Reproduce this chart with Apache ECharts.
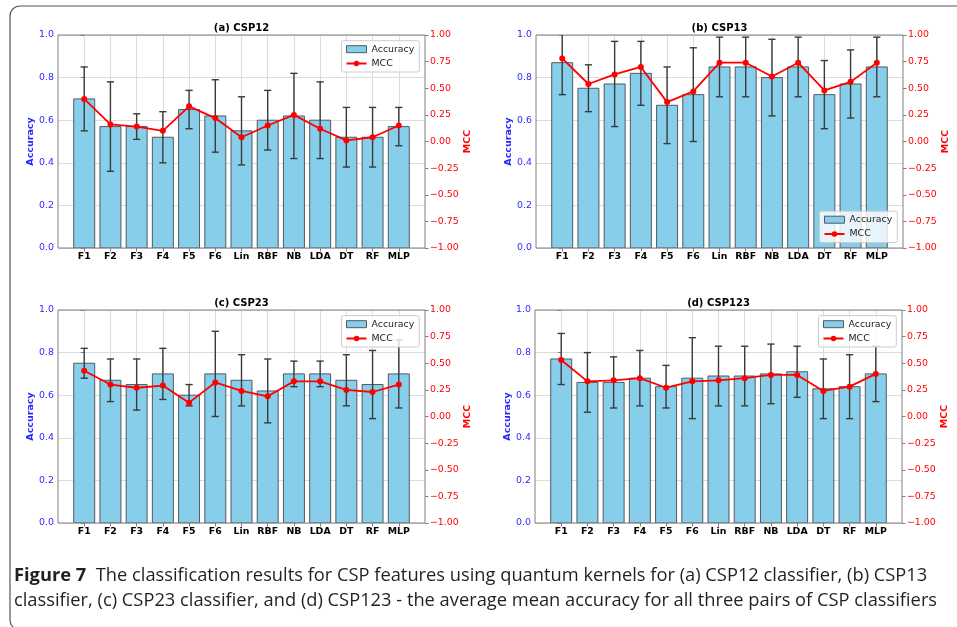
<!DOCTYPE html>
<html>
<head>
<meta charset="utf-8">
<script src="https://cdn.jsdelivr.net/npm/echarts@6/dist/echarts.min.js"></script>
<style>
html, body { margin: 0; padding: 0; background: #ffffff; }
#chart { width: 957px; height: 627px; }
</style>
</head>
<body>
<div id="chart"></div>
<script>
// Classifier / feature labels on the x axis
const categories = ['F1', 'F2', 'F3', 'F4', 'F5', 'F6', 'Lin', 'RBF', 'NB', 'LDA', 'DT', 'RF', 'MLP'];

// Accuracy axis ticks (left) and MCC axis ticks (right)
const accuracyTicks = [0.0, 0.2, 0.4, 0.6, 0.8, 1.0];
const mccTicks = [-1.0, -0.75, -0.5, -0.25, 0.0, 0.25, 0.5, 0.75, 1.0];

// (a) CSP12
const accCSP12 = [0.70, 0.57, 0.57, 0.52, 0.65, 0.62, 0.55, 0.60, 0.62, 0.60, 0.52, 0.52, 0.57];
const stdCSP12 = [0.15, 0.21, 0.06, 0.12, 0.09, 0.17, 0.16, 0.14, 0.20, 0.18, 0.14, 0.14, 0.09];
const mccCSP12 = [0.40, 0.16, 0.14, 0.10, 0.33, 0.22, 0.04, 0.15, 0.25, 0.12, 0.01, 0.04, 0.15];

// (b) CSP13
const accCSP13 = [0.87, 0.75, 0.77, 0.82, 0.67, 0.72, 0.85, 0.85, 0.80, 0.85, 0.72, 0.77, 0.85];
const stdCSP13 = [0.15, 0.11, 0.20, 0.15, 0.18, 0.22, 0.14, 0.14, 0.18, 0.14, 0.16, 0.16, 0.14];
const mccCSP13 = [0.78, 0.54, 0.63, 0.70, 0.37, 0.47, 0.74, 0.74, 0.61, 0.74, 0.48, 0.56, 0.74];

// (c) CSP23
const accCSP23 = [0.75, 0.67, 0.65, 0.70, 0.60, 0.70, 0.67, 0.62, 0.70, 0.70, 0.67, 0.65, 0.70];
const stdCSP23 = [0.07, 0.10, 0.12, 0.12, 0.05, 0.20, 0.12, 0.15, 0.06, 0.06, 0.12, 0.16, 0.16];
const mccCSP23 = [0.43, 0.30, 0.27, 0.29, 0.13, 0.32, 0.24, 0.19, 0.33, 0.33, 0.25, 0.23, 0.30];

// (d) CSP123
const accCSP123 = [0.77, 0.66, 0.66, 0.68, 0.64, 0.68, 0.69, 0.69, 0.70, 0.71, 0.63, 0.64, 0.70];
const stdCSP123 = [0.12, 0.14, 0.12, 0.13, 0.10, 0.19, 0.14, 0.14, 0.14, 0.12, 0.14, 0.15, 0.13];
const mccCSP123 = [0.53, 0.33, 0.34, 0.36, 0.27, 0.33, 0.34, 0.36, 0.39, 0.39, 0.24, 0.28, 0.40];

const panelTitles = ['(a) CSP12', '(b) CSP13', '(c) CSP23', '(d) CSP123'];
const captionBold = 'Figure 7';
const captionLine1 = 'The classification results for CSP features using quantum kernels for (a) CSP12 classifier, (b) CSP13';
const captionLine2 = 'classifier, (c) CSP23 classifier, and (d) CSP123 - the average mean accuracy for all three pairs of CSP classifiers';

const panelData = [
  { acc: accCSP12, std: stdCSP12, mcc: mccCSP12 },
  { acc: accCSP13, std: stdCSP13, mcc: mccCSP13 },
  { acc: accCSP23, std: stdCSP23, mcc: mccCSP23 },
  { acc: accCSP123, std: stdCSP123, mcc: mccCSP123 }
];

// Layout of the four subplots (pixels)
const PLOT_W = 367, PLOT_H = 213, W = 957;
const layout = [
  { left: 58,  top: 35,  legend: 'top' },
  { left: 536, top: 35,  legend: 'bottom' },
  { left: 58,  top: 310, legend: 'top' },
  { left: 535, top: 310, legend: 'top' }
];

const FONT = 'DejaVu Sans';
const TICK_FS = 9.4;
const SPINE = '#808080';
const GRIDLINE = '#dcdcdc';
const BAR_FILL = '#87CEEB';
const BAR_EDGE = '#4f5b60';
const ERR = '#3a3a3a';
const MCC_RED = '#ff0000';
const ACC_BLUE = '#2a2aff';

function barItem(params, api) {
  const x = api.value(0), v = api.value(1);
  const base = api.coord([x, 0]);
  const top = api.coord([x, v]);
  const w = api.size([0.8, 0])[0];
  return {
    type: 'rect',
    shape: { x: base[0] - w / 2, y: top[1], width: w, height: base[1] - top[1] },
    style: { fill: BAR_FILL, stroke: BAR_EDGE, lineWidth: 1 }
  };
}

function errorItem(params, api) {
  const x = api.value(0), m = api.value(1), e = api.value(2);
  const hi = api.coord([x, m + e]);
  const lo = api.coord([x, m - e]);
  const cap = 3.6;
  const st = { stroke: ERR, lineWidth: 1.4 };
  return {
    type: 'group',
    children: [
      { type: 'line', shape: { x1: hi[0], y1: hi[1], x2: lo[0], y2: lo[1] }, style: st },
      { type: 'line', shape: { x1: hi[0] - cap, y1: hi[1], x2: hi[0] + cap, y2: hi[1] }, style: st },
      { type: 'line', shape: { x1: lo[0] - cap, y1: lo[1], x2: lo[0] + cap, y2: lo[1] }, style: st }
    ]
  };
}

const grids = [], xAxes = [], yAxes = [], series = [], legends = [], graphics = [];

layout.forEach((L, k) => {
  const d = panelData[k];
  grids.push({
    left: L.left, top: L.top, width: PLOT_W, height: PLOT_H,
    show: true, borderColor: SPINE, borderWidth: 1, backgroundColor: 'transparent', z: 3
  });
  const catIdx = categories.map((c, i) => i);
  xAxes.push({
    type: 'value', gridIndex: k, min: -1, max: 13, interval: 1,
    axisLine: { show: false },
    axisTick: { show: true, length: 3.5, lineStyle: { color: SPINE }, customValues: catIdx },
    axisLabel: {
      show: true, margin: 4.5, fontFamily: FONT, fontSize: TICK_FS, fontWeight: 'bold', color: '#000',
      customValues: catIdx,
      formatter: v => { const i = Math.round(v); return (i >= 0 && i < categories.length) ? categories[i] : ''; }
    },
    splitLine: { show: true, lineStyle: { color: GRIDLINE, width: 1 } }
  });
  yAxes.push({
    type: 'value', gridIndex: k, position: 'left',
    min: accuracyTicks[0], max: accuracyTicks[accuracyTicks.length - 1], interval: 0.2,
    name: 'Accuracy', nameLocation: 'middle', nameGap: 20.5, nameRotate: 90,
    nameTextStyle: { color: ACC_BLUE, fontFamily: FONT, fontSize: 9.5, fontWeight: 'bold' },
    axisLine: { show: false },
    axisTick: { show: true, length: 3.5, lineStyle: { color: SPINE } },
    axisLabel: { margin: 4, fontFamily: FONT, fontSize: TICK_FS, color: ACC_BLUE, formatter: v => v.toFixed(1) },
    splitLine: { show: true, lineStyle: { color: GRIDLINE, width: 1 } }
  });
  yAxes.push({
    type: 'value', gridIndex: k, position: 'right',
    min: mccTicks[0], max: mccTicks[mccTicks.length - 1], interval: 0.25,
    name: 'MCC', nameLocation: 'middle', nameGap: 35, nameRotate: 90,
    nameTextStyle: { color: MCC_RED, fontFamily: FONT, fontSize: 9.5, fontWeight: 'bold' },
    axisLine: { show: false },
    axisTick: { show: true, length: 3.5, lineStyle: { color: SPINE } },
    axisLabel: {
      margin: 5, fontFamily: FONT, fontSize: TICK_FS, color: MCC_RED,
      formatter: v => (v < -1e-9 ? '\u2212' : '') + Math.abs(v).toFixed(2)
    },
    splitLine: { show: false }
  });

  series.push({
    name: 'Accuracy', type: 'custom', xAxisIndex: k, yAxisIndex: 2 * k,
    renderItem: barItem, clip: true, z: 2,
    encode: { x: 0, y: 1 },
    itemStyle: { color: BAR_FILL, borderColor: BAR_EDGE, borderWidth: 1 },
    data: d.acc.map((v, i) => [i, v])
  });
  series.push({
    name: 'Accuracy std', type: 'custom', xAxisIndex: k, yAxisIndex: 2 * k,
    renderItem: errorItem, clip: true, z: 3,
    encode: { x: 0, y: 1 },
    data: d.acc.map((v, i) => [i, v, d.std[i]])
  });
  series.push({
    name: 'MCC', type: 'line', xAxisIndex: k, yAxisIndex: 2 * k + 1,
    symbol: 'circle', symbolSize: 6, z: 4,
    lineStyle: { color: MCC_RED, width: 1.8 },
    itemStyle: { color: MCC_RED },
    data: d.mcc.map((v, i) => [i, v])
  });

  const plotRight = W - (L.left + PLOT_W);
  const lg = {
    orient: 'vertical', right: plotRight + 5.7,
    data: [
      { name: 'Accuracy', icon: 'rect', itemStyle: { color: BAR_FILL, borderColor: BAR_EDGE, borderWidth: 1 } },
      { name: 'MCC' }
    ],
    itemWidth: 20, itemHeight: 7, itemGap: 3.3,
    padding: [3, 5, 3, 4],
    backgroundColor: 'rgba(255,255,255,0.8)',
    borderColor: '#cccccc', borderWidth: 1, borderRadius: 2,
    textStyle: { fontFamily: FONT, fontSize: 9.4, color: '#222', lineHeight: 11 },
    selectedMode: false, z: 10
  };
  if (L.legend === 'top') lg.top = L.top + 5.7;
  else lg.bottom = 627 - (L.top + PLOT_H) + 5.5;
  legends.push(lg);

  graphics.push({
    type: 'text', x: L.left + PLOT_W / 2, y: L.top - 7, z: 20,
    style: {
      text: panelTitles[k], align: 'center', verticalAlign: 'middle',
      textAlign: 'center', textVerticalAlign: 'middle',
      font: 'bold 10px "' + FONT + '"', fill: '#000'
    }
  });
});

// Figure frame
graphics.push({
  type: 'rect', z: 0,
  shape: { x: 10, y: 6, width: 960, height: 624, r: 10 },
  style: { fill: 'none', stroke: '#555555', lineWidth: 1.2 }
});

// Caption
const capFont = '"Open Sans", "Noto Sans", sans-serif';
const CAP_FS = 18.3;
graphics.push({
  type: 'text', x: 14, y: 576, z: 20,
  style: {
    text: '{b|' + captionBold + '}  ' + captionLine1,
    verticalAlign: 'middle', textVerticalAlign: 'middle',
    fontFamily: capFont, fontSize: CAP_FS, fill: '#231f20',
    rich: { b: { fontFamily: capFont, fontSize: CAP_FS, fontWeight: 'bold', fill: '#231f20', color: '#231f20' } }
  }
});
graphics.push({
  type: 'text', x: 14, y: 601, z: 20,
  style: {
    text: captionLine2, verticalAlign: 'middle', textVerticalAlign: 'middle',
    fontFamily: capFont, fontSize: CAP_FS, fill: '#231f20'
  }
});

const chart = echarts.init(document.getElementById('chart'), null, { renderer: 'canvas' });
chart.setOption({
  animation: false,
  backgroundColor: '#ffffff',
  grid: grids,
  xAxis: xAxes,
  yAxis: yAxes,
  legend: legends,
  series: series,
  graphic: graphics
});
</script>
</body>
</html>
